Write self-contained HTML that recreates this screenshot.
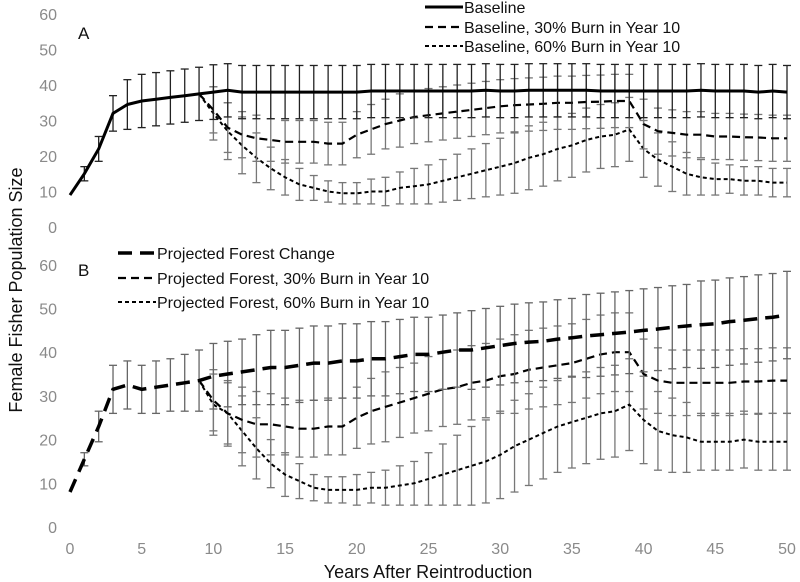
<!DOCTYPE html>
<html><head><meta charset="utf-8"><style>
body{margin:0;background:#fff;}
svg{display:block;font-family:"Liberation Sans",Arial,sans-serif;}
</style></head><body>
<svg id="c" width="800" height="582" viewBox="0 0 800 582"></svg>
<script>
const years=[];for(let i=0;i<=50;i++)years.push(i);
const yTicks=[0,10,20,30,40,50,60];
const xTicks=[0,5,10,15,20,25,30,35,40,45,50];
const baseA=[9,15,22,32,34.5,35.5,36,36.5,37,37.5,38,38.5,38,38,38,38,38,38,38,38,38,38.3,38.3,38.3,38.3,38.3,38.3,38.3,38.3,38.5,38.3,38.3,38.5,38.5,38.5,38.5,38.5,38.3,38.3,38.3,38.3,38.3,38.3,38.3,38.5,38.3,38.3,38.3,38,38.3,38];
const baseAErr=[0,2,3.5,5,7,7.5,7.5,7.5,7.5,7.5,7.7,7.5,7.5,7.5,7.5,7.5,7.5,7.5,7.5,7.5,7.5,7.5,7.5,7.5,7.5,7.5,7.5,7.5,7.5,7.5,7.5,7.5,7.5,7.5,7.5,7.5,7.5,7.5,7.5,7.5,7.5,7.5,7.5,7.5,7.5,7.5,7.5,7.5,7.5,7.5,7.5];
const burn30A=[null,null,null,null,null,null,null,null,null,37.5,33,28,26,25,24.5,24,24,24,23.5,23.5,26,27.5,29,30,31,31.5,32,32.5,33,33.5,34,34.3,34.5,34.7,35,35,35.2,35.3,35.5,35.5,29,27,26.5,26,26,25.5,25.5,25.3,25.2,25,25];
const burn30AErr=[0,0,0,0,0,0,0,0,0,0,6.5,7,6.5,6.5,6,6,6,6,6,6,6.5,7,7,7.5,7.5,7.5,7.5,7.5,7.5,7.5,7.5,7.5,7.5,7.5,7.5,7.5,7.5,7.5,7.5,7.5,7,6.5,6.5,6.5,6.5,6.5,6.5,6.5,6.5,6.5,6.5];
const burn60A=[null,null,null,null,null,null,null,null,null,37.5,32,27,23,19.5,16.5,14,12,11,10,9.5,9.5,10,10,11,11.5,12,13,14,15,16,17,18,19.5,20.5,22,23,24.5,25.5,26,27.5,22,19,17,15,14,13.5,13.5,13,13,12.5,12.5];
const burn60AErr=[0,0,0,0,0,0,0,0,0,0,7.5,8,8,7,6,5,4.5,3.5,3,3,3,3.5,4,4.5,5,5.5,6,6.5,7,7.5,8,8.5,9,9,9,9,9,9,9,9,8,7.5,7,6,5,4.5,4,4,4,4,4];
const projB=[8,15.5,23,31.5,32.5,31.5,32,32.5,33,33.5,34.5,35,35.5,36,36.5,36.5,37,37.5,37.5,38,38,38.5,38.5,39,39.5,39.5,40,40.5,40.5,41,41.5,42,42.3,42.5,43,43.3,43.7,44,44.3,44.6,45,45.3,45.7,46,46.3,46.5,47,47.3,47.7,48,48.5];
const projBErr=[0,1.5,3.5,5.5,5.5,5.5,6,6,6.5,7,7.5,7.5,7.5,8,8.5,8.5,8.5,8.5,8.5,8.5,8.5,8.5,8.5,8.5,8.5,8.5,8.5,8.5,9,9,9,9,9,9,9,9,9.5,9.5,9.5,9.5,9.5,9.5,9.5,9.5,10,10,10,10,10,10,10];
const burn30B=[null,null,null,null,null,null,null,null,null,33.5,29,26,24.5,23.5,23.5,23,22.5,22.5,23,23,25,26.5,27.5,28.5,29.5,30.5,31.5,32,33,33.5,34.5,35,36,36.5,37,37.5,38.5,39.5,40,40,35,33.5,33,33,33,33,33,33.3,33.3,33.5,33.5];
const burn30BErr=[0,0,0,0,0,0,0,0,0,0,7,7,7.5,7.5,7,6.5,6.5,6.5,6.5,6.5,7,7.5,8,8,8,8.5,8.5,8.5,8.5,8.5,8.5,9,9,9,9,9,9,9,9,9,8,7.5,7.5,7.5,7.5,7.5,7.5,7.5,7.5,7.5,7.5];
const burn60B=[null,null,null,null,null,null,null,null,null,33.5,28,26,22,18,14.5,12,10.5,9,8.5,8.5,8.5,9,9,9.5,10,11,12,13,14,15,16.5,18.5,20,21.5,23,24,25,26,26.5,28,24.5,22,21,20.5,19.5,19.5,19.5,20,19.5,19.5,19.5];
const burn60BErr=[0,0,0,0,0,0,0,0,0,0,7,7.5,8,7,5.5,5,4,3,3,3,3.5,3.5,4,4.5,5,6,7,8,9,9.5,10,10.5,10.5,10.5,10.5,10.5,10.5,10.5,10.5,10.5,10,9,8.5,8,6.5,6.5,6.5,6.5,6.5,6.5,6.5];

const NS='http://www.w3.org/2000/svg';
const svg=document.getElementById('c');
function mk(t,a,p){const e=document.createElementNS(NS,t);for(const k in a)e.setAttribute(k,a[k]);(p||svg).appendChild(e);return e;}
const xS=v=>70+v*(717/50);
const yA=v=>227-v*3.55;
const yB=v=>527-v*4.37;

function ticks(yS,panel){
  const g=mk('g',{});
  
  
  yTicks.forEach(t=>{const e=mk('text',{x:57,y:yS(t)+6,'text-anchor':'end','font-size':16,fill:'#8a8a8a'},g);e.textContent=t;
    
    });
}
ticks(yA,'panel-a');ticks(yB,'panel-b');
const xg=mk('g',{});


xTicks.forEach(t=>{const e=mk('text',{x:xS(t),y:554,'text-anchor':'middle','font-size':16,fill:'#8a8a8a'},xg);e.textContent=t;
  
  });
let e=mk('text',{x:428,y:578,'text-anchor':'middle','font-size':18,fill:'#111'});e.textContent='Years After Reintroduction';


e=mk('text',{x:0,y:0,transform:'translate(22,290) rotate(-90)','text-anchor':'middle','font-size':18,fill:'#111'});e.textContent='Female Fisher Population Size';


e=mk('text',{x:78,y:39,'font-size':17,fill:'#111'});e.textContent='A';


e=mk('text',{x:78,y:276,'font-size':17,fill:'#111'});e.textContent='B';



function series(vals,errs,yS,name,width,dash,ecol){
  const g=mk('g',{});
  
  
  vals.forEach((v,i)=>{if(v==null||!errs[i])return;const x=xS(years[i]);
    mk('line',{x1:x,x2:x,y1:yS(v-errs[i]),y2:yS(v+errs[i]),stroke:ecol,'stroke-width':1.3},g);
    mk('line',{x1:x-4,x2:x+4,y1:yS(v-errs[i]),y2:yS(v-errs[i]),stroke:ecol,'stroke-width':1.3},g);
    mk('line',{x1:x-4,x2:x+4,y1:yS(v+errs[i]),y2:yS(v+errs[i]),stroke:ecol,'stroke-width':1.3},g);});
  let d='';vals.forEach((v,i)=>{if(v==null)return;d+=(d?'L':'M')+xS(years[i]).toFixed(1)+','+yS(v).toFixed(1);});
  const p=mk('path',{d:d,fill:'none',stroke:'#000','stroke-width':width,'stroke-dasharray':dash},g);
  
  
}
series(burn60A,burn60AErr,yA,'baseline-60-burn-series',2,'4,3','#777');
series(burn30A,burn30AErr,yA,'baseline-30-burn-series',2.2,'8,5','#777');
series(baseA,baseAErr,yA,'baseline-series',3,'none','#222');
series(burn60B,burn60BErr,yB,'projected-60-burn-series',2,'4,3','#777');
series(burn30B,burn30BErr,yB,'projected-30-burn-series',2.2,'8,5','#777');
series(projB,projBErr,yB,'projected-forest-series',3.5,'14,8','#666');

function legend(x,y,text,width,dash,name){
  const g=mk('g',{});
  
  
  mk('line',{x1:x,x2:x+38,y1:y,y2:y,stroke:'#000','stroke-width':width,'stroke-dasharray':dash},g);
  const t=mk('text',{x:x+39,y:y+6,'font-size':16,fill:'#111','xml:space':'preserve'},g);t.textContent=text;
}
legend(425,7,'Baseline',3,'none','legend-baseline');
legend(425,27,'Baseline,  30% Burn in Year 10',2.2,'8,5','legend-baseline-30');
legend(425,46,'Baseline,  60% Burn in Year 10',2,'4,3','legend-baseline-60');
legend(118,253,'Projected Forest Change',3.5,'14,8','legend-projected');
legend(118,278,'Projected Forest, 30% Burn in Year 10',2.2,'8,5','legend-projected-30');
legend(118,302,'Projected Forest, 60% Burn in Year 10',2,'4,3','legend-projected-60');
</script>
</body></html>
